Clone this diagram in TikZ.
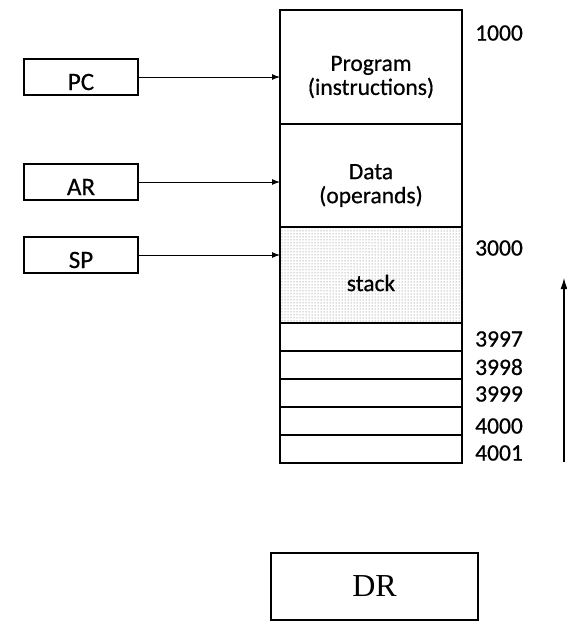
\documentclass[tikz,border=0pt]{standalone}
\usepackage{fontspec}
\setmainfont{Carlito}[FakeBold=0.6]
\newfontfamily\drfont{Liberation Serif}
\usetikzlibrary{arrows.meta,patterns,positioning}
\newcommand{\memarrow}{-{Latex[length=8pt,width=6pt]}}

\begin{document}
\begin{tikzpicture}[x=1pt,y=-1pt,
    reg/.style={draw,line width=2pt,minimum width=114pt,minimum height=36pt,inner sep=0pt,outer sep=0pt},
    mem/.style={draw,line width=1.9pt,minimum width=182pt,inner sep=0pt,outer sep=0pt},
    cell/.style={draw,line width=1.4pt,minimum width=182pt,minimum height=28pt,inner sep=0pt,outer sep=0pt},
    txt/.style={font=\fontsize{23.5}{24}\selectfont,align=center,inner sep=0pt},
    regtxt/.style={font=\fontsize{25}{26}\selectfont,inner sep=0pt},
    addr/.style={anchor=west,font=\fontsize{23.5}{24}\selectfont,inner sep=0pt},
  ]
  \useasboundingbox (0,0) rectangle (566,621);
  % memory column
  \node[mem,minimum height=114pt,label={[txt,yshift=-10pt]center:Program\\(instructions)}] (prog) at (371,67) {};
  \node[mem,minimum height=103pt,below=0pt of prog,label={[txt,yshift=-10pt]center:Data\\(operands)}] (data) {};
  \node[mem,minimum height=96pt,below=0pt of data,pattern=dots,pattern color=black!60,label={[txt,yshift=-8pt]center:stack}] (stack) {};
  \node[cell,below=0pt of stack] (c1) {};
  \node[cell,below=0pt of c1] (c2) {};
  \node[cell,below=0pt of c2] (c3) {};
  \node[cell,below=0pt of c3] (c4) {};
  \node[cell,below=0pt of c4] (c5) {};
  % registers
  \node[reg,label={[regtxt,yshift=-5pt]center:PC}] (pc) at (81,77) {};
  \node[reg,label={[regtxt,yshift=-5pt]center:AR}] (ar) at (81,182) {};
  \node[reg,label={[regtxt,yshift=-5pt]center:SP}] (sp) at (81,255) {};
  \draw[line width=1pt,\memarrow] (pc.east) -- (pc.east -| prog.west);
  \draw[line width=1pt,\memarrow] (ar.east) -- (ar.east -| data.west);
  \draw[line width=1pt,\memarrow] (sp.east) -- (sp.east -| stack.west);
  % addresses
  \node[addr] (a1000) at (475,33) {1000};
  \node[addr] (a3000) at (475,248) {3000};
  \node[addr] (a3997) at (475,339) {3997};
  \node[addr] (a3998) at (475,367) {3998};
  \node[addr] (a3999) at (475,394) {3999};
  \node[addr] (a4000) at (475,426) {4000};
  \node[addr] (a4001) at (475,453) {4001};
  % growth arrow
  \coordinate (grow0) at (564,462);
  \coordinate (grow1) at (564,278);
  \draw[line width=1.2pt,-{Latex[length=11pt,width=7pt]}] (grow0) -- (grow1);
  % DR
  \node[draw,line width=1.5pt,minimum width=207pt,minimum height=67pt,font=\drfont\fontsize{32}{36}\selectfont] (dr) at (374.5,586.5) {DR};
\end{tikzpicture}
\end{document}
